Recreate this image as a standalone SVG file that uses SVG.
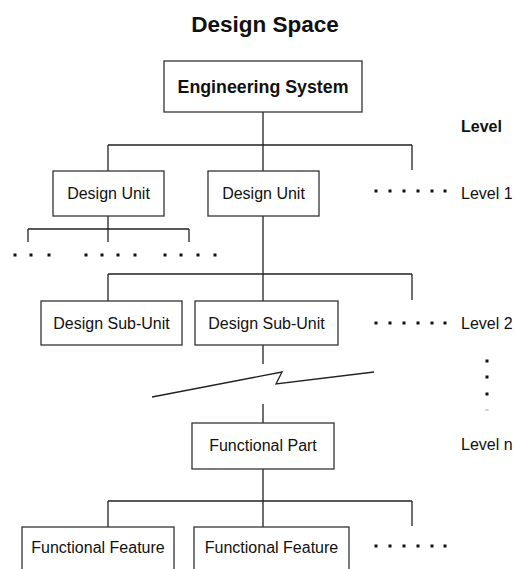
<svg xmlns="http://www.w3.org/2000/svg" width="514" height="569" viewBox="0 0 514 569">
<style>
.box{fill:#fff;stroke:#333;stroke-width:1.3}
.ln{fill:none;stroke:#222;stroke-width:1.3}
.t{font-family:"Liberation Sans",Arial,sans-serif;font-size:16px;fill:#111;text-anchor:middle}
.b{font-weight:bold}
.lv{font-family:"Liberation Sans",Arial,sans-serif;font-size:16px;fill:#111}
.d{fill:#111}
</style>
<rect width="514" height="569" fill="#fff"/>
<text x="265" y="32" class="t b" style="font-size:22.5px">Design Space</text>
<g id="connectors">
<path class="ln" d="M263,112V171M108,145H412M108,145V171M412,145V170"/>
<path class="ln" d="M108,216V242M28,229H189M28,229V242M189,229V242"/>
<path class="ln" d="M263,216V301M108,274H412M108,274V301M412,274V300"/>
<path class="ln" d="M263,345V364"/>
<path class="ln" d="M152,397L282,372L276,384L374,372"/>
<path class="ln" d="M263,404V423"/>
<path class="ln" d="M263,469V527M108,501H412M108,501V527M412,501V526"/>
</g>
<g id="engineering-system"><rect class="box" x="164" y="61" width="198" height="51"/><text x="263" y="93" class="t b" style="font-size:17.8px">Engineering System</text></g>
<g id="design-unit-1"><rect class="box" x="53" y="171" width="111" height="45"/><text x="108.5" y="199" class="t">Design Unit</text></g>
<g id="design-unit-2"><rect class="box" x="208" y="171" width="111" height="45"/><text x="263.5" y="199" class="t">Design Unit</text></g>
<g id="design-sub-unit-1"><rect class="box" x="41" y="301" width="141" height="44"/><text x="111.5" y="329" class="t">Design Sub-Unit</text></g>
<g id="design-sub-unit-2"><rect class="box" x="195" y="301" width="143" height="44"/><text x="266.5" y="329" class="t">Design Sub-Unit</text></g>
<g id="functional-part"><rect class="box" x="192" y="423" width="142" height="46"/><text x="263" y="451" class="t">Functional Part</text></g>
<g id="functional-feature-1"><rect class="box" x="22" y="527" width="152" height="50"/><text x="98" y="553" class="t">Functional Feature</text></g>
<g id="functional-feature-2"><rect class="box" x="194" y="527" width="155" height="50"/><text x="271.5" y="553" class="t">Functional Feature</text></g>
<g id="levels">
<text x="461" y="132" class="lv b">Level</text>
<text x="461" y="199" class="lv">Level 1</text>
<text x="461" y="329" class="lv">Level 2</text>
<text x="461" y="450" class="lv">Level n</text>
</g>
<g id="dots">
<g class="d">
<rect x="374.5" y="189.5" width="3" height="3"/><rect x="388.5" y="189.5" width="3" height="3"/><rect x="402.5" y="189.5" width="3" height="3"/><rect x="416.5" y="189.5" width="3" height="3"/><rect x="430.5" y="189.5" width="3" height="3"/><rect x="443.5" y="189.5" width="3" height="3"/>
<rect x="374.5" y="321.5" width="3" height="3"/><rect x="388.5" y="321.5" width="3" height="3"/><rect x="402.5" y="321.5" width="3" height="3"/><rect x="416.5" y="321.5" width="3" height="3"/><rect x="430.5" y="321.5" width="3" height="3"/><rect x="443.5" y="321.5" width="3" height="3"/>
<rect x="374.5" y="544.5" width="3" height="3"/><rect x="388.5" y="544.5" width="3" height="3"/><rect x="402.5" y="544.5" width="3" height="3"/><rect x="416.5" y="544.5" width="3" height="3"/><rect x="430.5" y="544.5" width="3" height="3"/><rect x="443.5" y="544.5" width="3" height="3"/>
<rect x="13.5" y="253.5" width="3" height="3"/><rect x="29.5" y="253.5" width="3" height="3"/><rect x="47.5" y="253.5" width="3" height="3"/>
<rect x="84.5" y="253.5" width="3" height="3"/><rect x="100.5" y="253.5" width="3" height="3"/><rect x="116.5" y="253.5" width="3" height="3"/><rect x="133.5" y="253.5" width="3" height="3"/>
<rect x="163.5" y="253.5" width="3" height="3"/><rect x="179.5" y="253.5" width="3" height="3"/><rect x="196.5" y="253.5" width="3" height="3"/><rect x="213.5" y="253.5" width="3" height="3"/>
<rect x="485.5" y="359.5" width="3" height="3"/><rect x="485.5" y="375.5" width="3" height="3"/><rect x="485.5" y="392.5" width="3" height="3"/>
</g>
<rect x="485.5" y="409.5" width="3" height="1" fill="#999"/>
</g>
</svg>
